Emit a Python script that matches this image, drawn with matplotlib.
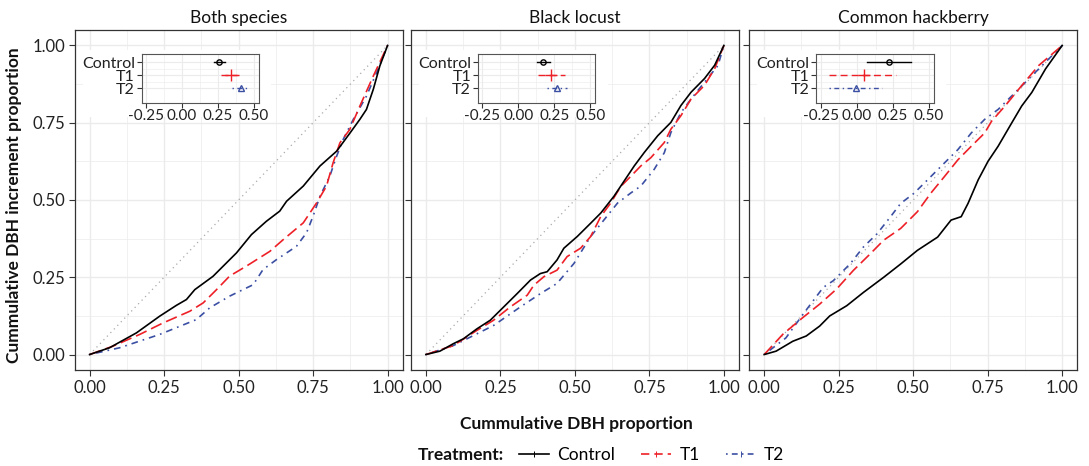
import matplotlib
matplotlib.use("Agg")
import matplotlib.pyplot as plt
from matplotlib.lines import Line2D
import numpy as np

plt.rcParams['font.family'] = ['Lato', 'DejaVu Sans']

panels = ["Both species", "Black locust", "Common hackberry"]
treatments = ["Control", "T1", "T2"]

# ---- cumulative curves (x = cumulative DBH proportion, y = cumulative increment proportion)
both_control_x = [0, 0.067, 0.157, 0.235, 0.291, 0.325, 0.353, 0.414, 0.493, 0.543, 0.593, 0.638, 0.661, 0.717, 0.773, 0.829, 0.874, 0.907, 0.929, 0.952, 0.974, 1]
both_control_y = [0, 0.022, 0.070, 0.124, 0.159, 0.178, 0.210, 0.253, 0.329, 0.388, 0.431, 0.464, 0.496, 0.545, 0.610, 0.658, 0.717, 0.761, 0.793, 0.858, 0.934, 1]
both_t1_x = [0, 0.078, 0.168, 0.246, 0.336, 0.381, 0.426, 0.470, 0.526, 0.605, 0.650, 0.717, 0.762, 0.795, 0.817, 0.840, 0.873, 0.907, 0.952, 1]
both_t1_y = [0, 0.027, 0.065, 0.102, 0.140, 0.167, 0.210, 0.254, 0.286, 0.334, 0.372, 0.426, 0.491, 0.545, 0.620, 0.685, 0.728, 0.804, 0.901, 1]
both_t2_x = [0, 0.101, 0.235, 0.358, 0.403, 0.470, 0.549, 0.582, 0.627, 0.694, 0.728, 0.750, 0.773, 0.806, 0.829, 0.851, 0.885, 0.929, 0.963, 1]
both_t2_y = [0, 0.022, 0.065, 0.113, 0.151, 0.189, 0.226, 0.275, 0.307, 0.350, 0.394, 0.448, 0.512, 0.577, 0.642, 0.696, 0.761, 0.836, 0.912, 1]

locust_control_x = [0, 0.047, 0.092, 0.126, 0.171, 0.216, 0.261, 0.306, 0.351, 0.384, 0.407, 0.440, 0.463, 0.508, 0.553, 0.587, 0.631, 0.665, 0.699, 0.733, 0.778, 0.822, 0.856, 0.890, 0.935, 0.969, 1]
locust_control_y = [0, 0.011, 0.035, 0.051, 0.083, 0.111, 0.154, 0.197, 0.241, 0.262, 0.268, 0.306, 0.344, 0.382, 0.425, 0.458, 0.512, 0.561, 0.610, 0.654, 0.708, 0.751, 0.806, 0.849, 0.893, 0.936, 1]
locust_t1_x = [0, 0.092, 0.171, 0.227, 0.283, 0.340, 0.362, 0.396, 0.440, 0.474, 0.519, 0.553, 0.587, 0.620, 0.654, 0.688, 0.721, 0.755, 0.800, 0.822, 0.856, 0.890, 0.935, 0.969, 1]
locust_t1_y = [0, 0.029, 0.078, 0.111, 0.154, 0.192, 0.224, 0.252, 0.273, 0.317, 0.344, 0.382, 0.447, 0.490, 0.544, 0.577, 0.610, 0.637, 0.686, 0.729, 0.773, 0.827, 0.871, 0.925, 1]
locust_t2_x = [0, 0.092, 0.227, 0.317, 0.384, 0.440, 0.497, 0.553, 0.598, 0.643, 0.688, 0.721, 0.766, 0.800, 0.822, 0.856, 0.890, 0.935, 0.980, 1]
locust_t2_y = [0, 0.029, 0.094, 0.154, 0.197, 0.230, 0.295, 0.382, 0.436, 0.490, 0.523, 0.545, 0.599, 0.653, 0.718, 0.783, 0.827, 0.881, 0.935, 1]

hack_control_x = [0, 0.040, 0.096, 0.141, 0.186, 0.220, 0.277, 0.333, 0.401, 0.458, 0.514, 0.582, 0.627, 0.661, 0.684, 0.718, 0.751, 0.785, 0.831, 0.864, 0.898, 0.944, 1]
hack_control_y = [0, 0.011, 0.043, 0.060, 0.092, 0.125, 0.158, 0.201, 0.250, 0.293, 0.337, 0.380, 0.435, 0.446, 0.489, 0.565, 0.625, 0.674, 0.750, 0.804, 0.848, 0.924, 1]
hack_t1_x = [0, 0.062, 0.130, 0.186, 0.243, 0.299, 0.356, 0.401, 0.458, 0.514, 0.559, 0.605, 0.650, 0.695, 0.740, 0.763, 0.808, 0.864, 0.921, 1]
hack_t1_y = [0, 0.065, 0.120, 0.163, 0.212, 0.272, 0.326, 0.370, 0.408, 0.462, 0.522, 0.576, 0.630, 0.674, 0.717, 0.755, 0.804, 0.870, 0.935, 1]
hack_t2_x = [0, 0.073, 0.130, 0.198, 0.232, 0.288, 0.333, 0.379, 0.424, 0.458, 0.503, 0.548, 0.605, 0.650, 0.695, 0.740, 0.785, 0.831, 0.887, 0.944, 1]
hack_t2_y = [0, 0.054, 0.130, 0.217, 0.239, 0.293, 0.348, 0.391, 0.446, 0.489, 0.522, 0.565, 0.620, 0.663, 0.717, 0.761, 0.793, 0.837, 0.891, 0.946, 1]

# ---- inset estimates (point, lower, upper) per treatment
both_est = [0.259, 0.338, 0.408]
both_lo = [0.224, 0.271, 0.349]
both_hi = [0.299, 0.414, 0.472]
locust_est = [0.172, 0.224, 0.266]
locust_lo = [0.132, 0.136, 0.196]
locust_hi = [0.219, 0.324, 0.337]
hack_est = [0.224, 0.048, -0.007]
hack_lo = [0.074, -0.192, -0.192]
hack_hi = [0.380, 0.276, 0.176]

curves = [
    [(both_control_x, both_control_y), (both_t1_x, both_t1_y), (both_t2_x, both_t2_y)],
    [(locust_control_x, locust_control_y), (locust_t1_x, locust_t1_y), (locust_t2_x, locust_t2_y)],
    [(hack_control_x, hack_control_y), (hack_t1_x, hack_t1_y), (hack_t2_x, hack_t2_y)],
]
insets = [(both_est, both_lo, both_hi), (locust_est, locust_lo, locust_hi), (hack_est, hack_lo, hack_hi)]

colors = ["#000000", "#EE2027", "#3B4FA3"]
dashes = [None, (7, 3), (1, 3, 4, 3)]
small_dashes = [None, (5, 3), (1, 2.5, 3.5, 2.5)]
markers = ["o", "+", "^"]

main_ticks = [0.0, 0.25, 0.5, 0.75, 1.0]
main_labels = ["0.00", "0.25", "0.50", "0.75", "1.00"]
inset_ticks = [-0.25, 0.0, 0.25, 0.5]
inset_labels = ["-0.25", "0.00", "0.25", "0.50"]

W, H = 1089, 466
fig = plt.figure(figsize=(W / 100, H / 100), dpi=100)
fig.patch.set_facecolor("white")

lefts = [74.7, 411.0, 749.3]
pw = 327.8
top_px, bot_px = 30.0, 370.0
border_col = "#333333"
grid_col = "#EBEBEB"
tick_fs = 12

for i, name in enumerate(panels):
    ax = fig.add_axes([lefts[i] / W, (H - bot_px) / H, pw / W, (bot_px - top_px) / H])
    ax.set_xlim(-0.05, 1.05)
    ax.set_ylim(-0.05, 1.05)
    ax.set_xticks(main_ticks)
    ax.set_xticklabels(main_labels, fontsize=tick_fs, color="#222222")
    ax.set_yticks(main_ticks)
    if i == 0:
        ax.set_yticklabels(main_labels, fontsize=tick_fs, color="#222222")
    else:
        ax.set_yticklabels([])
        ax.tick_params(axis="y", length=0)
    ax.set_xticks([0.125, 0.375, 0.625, 0.875], minor=True)
    ax.set_yticks([0.125, 0.375, 0.625, 0.875], minor=True)
    ax.tick_params(which="minor", length=0)
    ax.tick_params(which="major", length=4, width=0.8, color="#333333", pad=3)
    ax.grid(True, which="major", color=grid_col, lw=1.0, zorder=0)
    ax.grid(True, which="minor", color=grid_col, lw=0.5, zorder=0)
    ax.set_axisbelow(True)
    for s in ax.spines.values():
        s.set_color(border_col)
        s.set_linewidth(0.9)
    ax.set_title(name, fontsize=12.5, pad=5, color="#111111")

    ax.plot([0, 1], [0, 1], ls=(0, (1, 3)), color="#AAAAAA", lw=0.9, zorder=1)
    for k in range(3):
        xs, ys = curves[i][k]
        ln, = ax.plot(xs, ys, color=colors[k], lw=1.2, zorder=3.5 - k * 0.1)
        if dashes[k] is not None:
            ln.set_dashes(dashes[k])

    # white background behind inset (covers grid like ggplot plot.background)
    ax.add_patch(plt.Rectangle((0.025, 0.745), 0.575, 0.195, transform=ax.transAxes,
                               facecolor="white", edgecolor="none", zorder=4))

    # inset
    ix0 = lefts[i] + 0.2045 * pw
    ix1 = lefts[i] + 0.5626 * pw
    iy0 = 54.3
    iy1 = 103.0
    iax = fig.add_axes([ix0 / W, (H - iy1) / H, (ix1 - ix0) / W, (iy1 - iy0) / H])
    iax.set_zorder(ax.get_zorder() + 1)
    iax.set_xlim(-0.28, 0.535)
    iax.set_ylim(-0.13, 3.6)
    iax.set_xticks(inset_ticks)
    iax.set_xticklabels(inset_labels, fontsize=11, color="#222222")
    iax.set_yticks([3, 2, 1])
    iax.set_yticklabels(treatments, fontsize=11.5, color="#222222")
    iax.set_xticks([-0.125, 0.125, 0.375], minor=True)
    iax.set_yticks([1.5, 2.5], minor=True)
    iax.tick_params(which="minor", length=0)
    iax.tick_params(which="major", length=3.5, width=0.8, color="#333333", pad=1)
    iax.tick_params(axis="y", pad=1.5)
    iax.grid(True, which="major", color=grid_col, lw=0.8)
    iax.grid(True, which="minor", color=grid_col, lw=0.4)
    iax.set_axisbelow(True)
    for s in iax.spines.values():
        s.set_color("#555555")
        s.set_linewidth(0.8)
    est, lo, hi = insets[i]
    rows = [3, 2, 1]
    for k in range(3):
        ln, = iax.plot([lo[k], hi[k]], [rows[k], rows[k]], color=colors[k], lw=1.0, zorder=3)
        if small_dashes[k] is not None:
            ln.set_dashes(small_dashes[k])
        if markers[k] == "+":
            iax.plot(est[k], rows[k], marker="+", ms=8, mew=1.0, color=colors[k], ls="none", zorder=4)
        else:
            iax.plot(est[k], rows[k], marker=markers[k], ms=3.8, mew=1.0,
                     mfc="none", mec=colors[k], ls="none", zorder=4)

fig.text(14 / W, 1 - 205 / H, "Cummulative DBH increment proportion", rotation=90,
         ha="center", va="center", fontsize=12.5, fontweight="bold", color="#111111")
fig.text(576 / W, 1 - 424 / H, "Cummulative DBH proportion", ha="center", va="center",
         fontsize=12.5, fontweight="bold", color="#111111")

fig.text(418 / W, 1 - 455 / H, "Treatment:", ha="left", va="center",
         fontsize=12.5, fontweight="bold", color="#111111")
handles = []
for k in range(3):
    h = Line2D([0], [0], color=colors[k], lw=1.2, marker="|", ms=4, mew=0.7)
    if dashes[k] is not None:
        h.set_dashes(small_dashes[k])
    handles.append(h)
fig.legend(handles, treatments, loc="center left", bbox_to_anchor=(519 / W, 1 - 455 / H),
           ncol=3, frameon=False, fontsize=12.5, handlelength=1.75, columnspacing=1.5,
           handletextpad=0.45, borderaxespad=0, borderpad=0)

fig.savefig("out.png", dpi=100)
